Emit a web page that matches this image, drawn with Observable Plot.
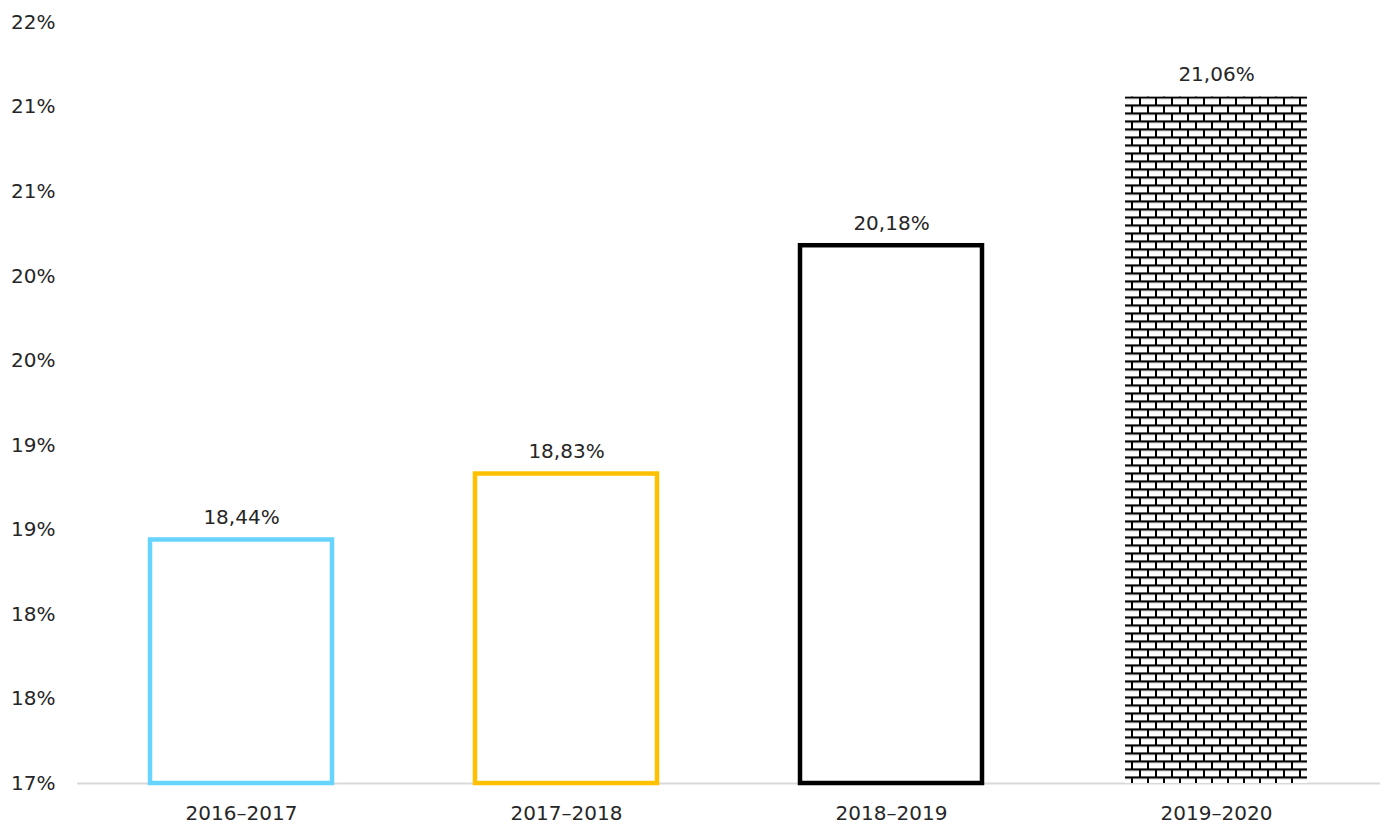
<!DOCTYPE html>
<html>
<head>
<meta charset="utf-8">
<script src="https://cdn.jsdelivr.net/npm/d3@7"></script>
<script src="https://cdn.jsdelivr.net/npm/@observablehq/plot@0.6"></script>
<style>
  body { margin: 0; background: #fff; }
  #chart svg { display: block; }
</style>
</head>
<body>
<div id="chart"></div>
<script>
const categories = ["2016–2017", "2017–2018", "2018–2019", "2019–2020"];
const values = [18.44, 18.83, 20.18, 21.06];
const strokes = ["#66d4ff", "#ffc000", "#000000", "none"];
const patterned = [false, false, false, true];
const yTicks = [17, 17.5, 18, 18.5, 19, 19.5, 20, 20.5, 21, 21.5];

const data = categories.map((c, i) => ({cat: c, v: values[i], stroke: strokes[i], pat: patterned[i]}));
const fmt = v => v.toFixed(2).replace(".", ",") + "%";
const FONT = "DejaVu Sans";

const plot = Plot.plot({
  width: 1385,
  height: 825,
  marginLeft: 77,
  marginRight: 5,
  marginTop: 22,
  marginBottom: 42,
  style: {fontFamily: FONT, fontSize: "20px", color: "#262626", background: "#fff"},
  x: {domain: categories, paddingInner: 0.44, paddingOuter: 0.22, label: null},
  y: {domain: [17, 21.5], label: null},
  marks: [
    Plot.ruleY([17], {stroke: "#d9d9d9", strokeWidth: 2}),
    Plot.barY(data.filter(d => !d.pat), {x: "cat", y1: 17, y2: "v", fill: "white", stroke: d => d.stroke, strokeWidth: 4.5}),
    Plot.barY(data.filter(d => d.pat), {x: "cat", y1: 17, y2: "v", fill: "url(#brick)"}),
    Plot.text(data, {x: "cat", y: "v", text: d => fmt(d.v), lineAnchor: "bottom", dy: -16, fontSize: 20, fill: "#262626"}),
    Plot.axisY({ticks: yTicks, tickFormat: d => Math.round(d) + "%", tickSize: 0, tickPadding: 22, fontSize: 20}),
    Plot.axisX({tickSize: 0, tickPadding: 22, fontSize: 20})
  ],
  color: {type: "identity"}
});

// brick pattern aligned to the top of the patterned bar
const yScale = plot.scale("y");
const topY = yScale.apply(values[3]);
const svgNS = "http://www.w3.org/2000/svg";
const defs = document.createElementNS(svgNS, "defs");
const pat = document.createElementNS(svgNS, "pattern");
pat.setAttribute("id", "brick");
pat.setAttribute("patternUnits", "userSpaceOnUse");
pat.setAttribute("width", 16);
pat.setAttribute("height", 16);
pat.setAttribute("patternTransform", `translate(3, ${topY % 16})`);
const addRect = (x, y, w, h, fill) => {
  const r = document.createElementNS(svgNS, "rect");
  r.setAttribute("x", x); r.setAttribute("y", y);
  r.setAttribute("width", w); r.setAttribute("height", h);
  r.setAttribute("fill", fill);
  pat.appendChild(r);
};
addRect(0, 0, 16, 16, "#fff");
addRect(0, 0, 16, 2.2, "#000");
addRect(0, 8, 16, 2.2, "#000");
addRect(0, 0, 2, 8, "#000");
addRect(8, 8, 2, 8, "#000");
defs.appendChild(pat);
plot.insertBefore(defs, plot.firstChild);

document.getElementById("chart").appendChild(plot);
</script>
</body>
</html>
